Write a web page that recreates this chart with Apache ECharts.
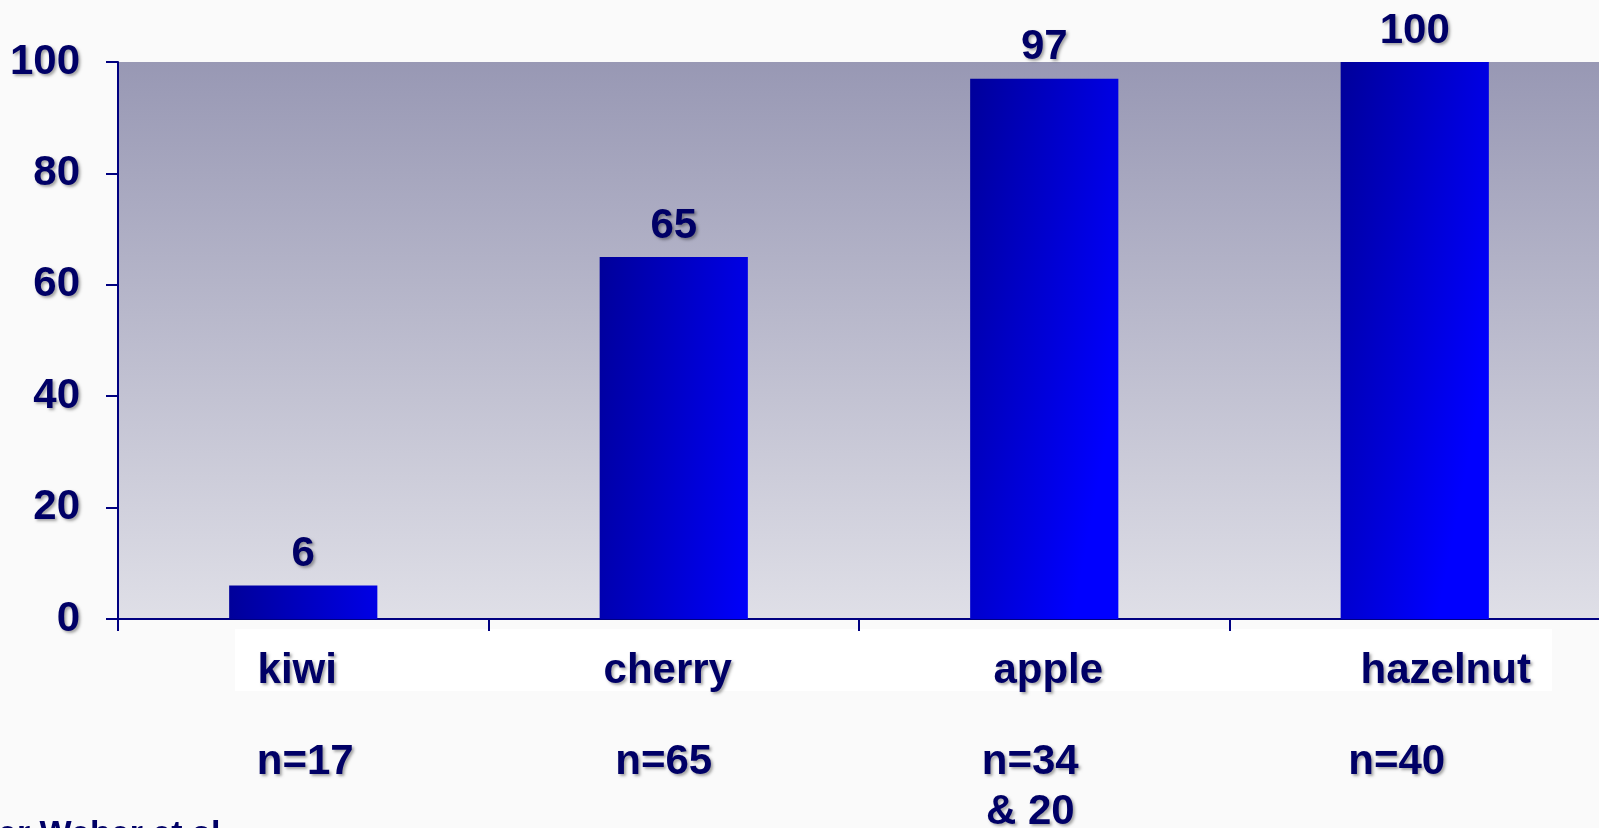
<!DOCTYPE html>
<html>
<head>
<meta charset="utf-8">
<script src="https://cdn.jsdelivr.net/npm/echarts@6/dist/echarts.min.js"></script>
<style>
  html, body { margin: 0; padding: 0; background: #fafafa; }
  #chart { width: 1599px; height: 828px; }
</style>
</head>
<body>
<div id="chart"></div>
<script>
// ---- data ----
const categories = ['kiwi', 'cherry', 'apple', 'hazelnut'];
const values = [6, 65, 97, 100];
const sampleLabels = ['n=17', 'n=65', 'n=34\n& 20', 'n=40'];
const yTicks = [0, 20, 40, 60, 80, 100];
const sourceNote = 'er Weber et al';

// ---- styling helpers (not data) ----
const catShift = [-6, -6, 4, 31];
const nShift = [2, -10, -14, -18];
function shiftPad(o) { return o >= 0 ? [0, 0, 0, 2 * o] : [0, -2 * o, 0, 0]; }

const TEXT = '#000066';
const FONT = 'Liberation Sans, Arial, sans-serif';
const shadow = { textShadowColor: 'rgba(0,0,0,0.35)', textShadowBlur: 3, textShadowOffsetX: 2, textShadowOffsetY: 2 };

const chart = echarts.init(document.getElementById('chart'));
chart.setOption({
  backgroundColor: '#fafafa',
  animation: false,
  graphic: [
    { type: 'rect', left: 235, top: 629, shape: { width: 1317, height: 62 }, style: { fill: '#ffffff' }, z: -1 },
    { type: 'text', left: -2, top: 818, style: { text: sourceNote, fill: TEXT, font: 'bold 34px ' + FONT } }
  ],
  grid: {
    left: 118, top: 62, width: 1482, height: 557,
    outerBoundsMode: 'none',
    containLabel: false,
    show: true, borderWidth: 0,
    backgroundColor: new echarts.graphic.LinearGradient(0, 0, 0, 1, [
      { offset: 0, color: '#9898b4' },
      { offset: 1, color: '#dfdfe7' }
    ])
  },
  xAxis: [
    {
      type: 'category',
      data: categories.map((c, i) => ({ value: c, textStyle: { padding: shiftPad(catShift[i]) } })),
      boundaryGap: true,
      axisLine: { lineStyle: { color: '#000080', width: 2 } },
      axisTick: { show: true, length: 12, lineStyle: { color: '#000080', width: 2 } },
      axisLabel: Object.assign({ color: TEXT, fontFamily: FONT, fontWeight: 'bold', fontSize: 42, margin: 31, interval: 0 }, shadow),
      splitLine: { show: false }
    },
    {
      type: 'category',
      data: sampleLabels.map((c, i) => ({ value: c, textStyle: { padding: shiftPad(nShift[i]) } })),
      position: 'bottom',
      offset: 87,
      axisLine: { show: false },
      axisTick: { show: false },
      axisLabel: Object.assign({ color: TEXT, fontFamily: FONT, fontWeight: 'bold', fontSize: 42, lineHeight: 50, margin: 31, interval: 0, verticalAlign: 'top' }, shadow)
    }
  ],
  yAxis: {
    type: 'value',
    min: yTicks[0], max: yTicks[yTicks.length - 1], interval: yTicks[1] - yTicks[0],
    axisLine: { show: true, lineStyle: { color: '#000080', width: 2 } },
    axisTick: { show: true, length: 12, lineStyle: { color: '#000080', width: 2 } },
    axisLabel: Object.assign({ color: TEXT, fontFamily: FONT, fontWeight: 'bold', fontSize: 42, margin: 38, padding: [12, 0, 0, 0] }, shadow),
    splitLine: { show: false }
  },
  series: [{
    type: 'bar',
    data: values,
    barWidth: '40%',
    itemStyle: {
      color: new echarts.graphic.LinearGradient(0, 0, 1.34, 0.07, [
        { offset: 0, color: '#00009a' },
        { offset: 1, color: '#0000ff' }
      ])
    },
    label: Object.assign({ show: true, position: 'top', distance: 10, color: TEXT, fontFamily: FONT, fontWeight: 'bold', fontSize: 42 }, shadow)
  }]
});
</script>
</body>
</html>
